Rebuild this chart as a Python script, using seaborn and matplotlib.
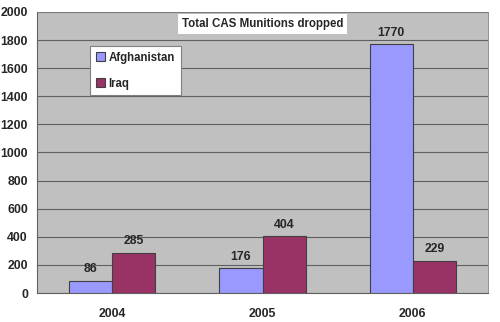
import matplotlib
matplotlib.use("Agg")
import matplotlib.pyplot as plt
import seaborn as sns
import pandas as pd
from matplotlib.ticker import FixedLocator

years = ["2004", "2005", "2006"]
afghanistan = [86, 176, 1770]
iraq = [285, 404, 229]
series = ["Afghanistan", "Iraq"]
colors = ["#9999FF", "#993366"]

df = pd.DataFrame({
    "Year": years * 2,
    "Value": afghanistan + iraq,
    "Country": [series[0]] * 3 + [series[1]] * 3,
})

sns.set_style("white")
plt.rcParams["font.family"] = ["Liberation Sans", "DejaVu Sans"]
plt.rcParams["font.weight"] = "bold"

fig = plt.figure(figsize=(5, 3.22), dpi=100)
ax = fig.add_axes([0.074, 0.09, 0.902, 0.873])
ax.set_facecolor("#C0C0C0")

sns.barplot(data=df, x="Year", y="Value", hue="Country", palette=colors,
            width=0.575, gap=0, edgecolor="#404040", linewidth=0.8, ax=ax,
            saturation=1, zorder=3)

ax.set_ylim(0, 2000)
ax.set_xlim(-0.5, 2.5)
ax.set_yticks(range(0, 2001, 200))
ax.yaxis.grid(True, color="#606060", linewidth=0.8, zorder=0)
ax.set_axisbelow(True)
ax.set_xlabel("")
ax.set_ylabel("")
ax.tick_params(axis="both", labelsize=8.8, length=3, color="#606060")
ax.tick_params(axis="x", length=0, pad=11)
ax.xaxis.set_minor_locator(FixedLocator([0.5, 1.5]))
ax.tick_params(axis="x", which="minor", length=3, color="#606060", direction="out")
for lab in ax.get_xticklabels() + ax.get_yticklabels():
    lab.set_fontweight("bold")

for s in ["left", "bottom"]:
    ax.spines[s].set_color("#606060")
    ax.spines[s].set_linewidth(0.8)
for s in ["top", "right"]:
    ax.spines[s].set_color("#808080")
    ax.spines[s].set_linewidth(0.6)

for cont in ax.containers:
    ax.bar_label(cont, padding=4, fontsize=8.8, fontweight="bold")

leg = ax.legend(loc="upper left", bbox_to_anchor=(0.118, 0.879), fontsize=8.3,
                frameon=True, fancybox=False, edgecolor="#808080", framealpha=1,
                handlelength=0.8, handleheight=0.8, labelspacing=1.2,
                borderpad=0.5, handletextpad=0.3, borderaxespad=0)
leg.get_frame().set_facecolor("white")
leg.get_frame().set_linewidth(0.8)
for t in leg.get_texts():
    t.set_fontweight("bold")

ax.text(0.5, 0.957, "Total CAS Munitions dropped", transform=ax.transAxes,
        ha="center", va="center", fontsize=8.3, fontweight="bold",
        bbox=dict(facecolor="white", edgecolor="none", pad=3))

fig.savefig("out.png", dpi=100, facecolor="white")
